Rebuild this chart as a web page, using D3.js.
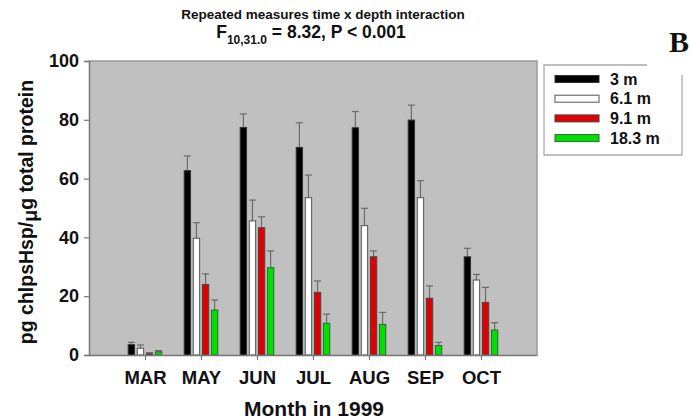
<!DOCTYPE html>
<html><head><meta charset="utf-8">
<script src="https://cdn.jsdelivr.net/npm/d3@7/dist/d3.min.js"></script>
<style>body{margin:0;background:#fff}svg{display:block}text{font-family:"Liberation Sans",Arial,sans-serif;font-weight:bold;fill:#111}</style>
</head><body>
<svg id="c" width="690" height="419"></svg>
<script>
const months = ["MAR","MAY","JUN","JUL","AUG","SEP","OCT"];
const depths = ["3 m","6.1 m","9.1 m","18.3 m"];
const colors = ["#000000","#ffffff","#e00000","#00e000"];
const strokes = ["#333333","#555555","#444444","#336633"];
const meanVals = [
  [3.5, 62.7, 77.4, 70.6, 77.3, 79.9, 33.4],
  [2.3, 39.7, 45.6, 53.5, 44.0, 53.5, 25.5],
  [0.4, 24.0, 43.3, 21.3, 33.4, 19.3, 17.9],
  [1.1, 15.3, 29.7, 10.8, 10.4, 3.2, 8.5]
];
const errTops = [
  [4.3, 67.7, 82.0, 79.0, 82.8, 85.0, 36.3],
  [3.4, 45.0, 52.7, 61.2, 49.9, 59.3, 27.4],
  [0.8, 27.6, 47.0, 25.2, 35.4, 23.5, 23.0],
  [1.5, 18.7, 35.4, 13.9, 14.5, 4.3, 11.0]
];
const yTicks = [0,20,40,60,80,100];

const svg = d3.select("#c");
const L=89, R=537, T=61, B=355;
const x = d3.scalePoint().domain(months).range([L,R]).padding(1);
const y = d3.scaleLinear().domain([0,100]).range([B,T]);
const off = d3.scaleBand().domain(depths).range([-16.8,16.8]).paddingInner(0.3);

svg.append("rect").attr("x",L).attr("y",T).attr("width",R-L).attr("height",B-T).attr("fill","#c0c0c0");
svg.append("path").attr("d",`M${L},${T}H${R}V${B}`).attr("fill","none").attr("stroke","#9a9a9a").attr("stroke-width",1.5);

// bars
depths.forEach((d,si)=>{
  const g = svg.append("g");
  months.forEach((m,mi)=>{
    const cx = x(m)+off(d)+off.bandwidth()/2;
    const v = meanVals[si][mi], e = errTops[si][mi];
    g.append("line").attr("x1",cx).attr("x2",cx).attr("y1",y(v)).attr("y2",y(e)).attr("stroke","#6a6a6a").attr("stroke-width",1.2);
    g.append("line").attr("x1",cx-3.5).attr("x2",cx+3.5).attr("y1",y(e)).attr("y2",y(e)).attr("stroke","#6a6a6a").attr("stroke-width",1.2);
    g.append("rect").attr("x",x(m)+off(d)).attr("y",y(v)).attr("width",off.bandwidth()).attr("height",y(0)-y(v))
      .attr("fill",colors[si]).attr("stroke",strokes[si]).attr("stroke-width",1);
  });
});

// axes
const ya = svg.append("g").attr("transform",`translate(${L},0)`).call(d3.axisLeft(y).tickValues(yTicks).tickSize(5).tickPadding(5));
ya.select(".domain").attr("stroke","#777").attr("stroke-width",1.5);
ya.selectAll(".tick line").attr("stroke","#777").attr("stroke-width",1.2);
ya.selectAll("text").attr("font-size","18px").attr("font-family","Liberation Sans, Arial").attr("font-weight","bold").attr("fill","#111");

const xa = svg.append("g").attr("transform",`translate(0,${B})`).call(d3.axisBottom(x).tickSize(5).tickPadding(11).tickSizeOuter(0));
xa.select(".domain").attr("stroke","#777").attr("stroke-width",1.5);
xa.selectAll(".tick line").attr("stroke","#777").attr("stroke-width",1.2);
xa.selectAll("text").attr("font-size","18.5px").attr("font-family","Liberation Sans, Arial").attr("font-weight","bold").attr("fill","#111");

// titles
svg.append("text").attr("x",323).attr("y",19).attr("text-anchor","middle").attr("font-size","13.5px").text("Repeated measures time x depth interaction");
const t2 = svg.append("text").attr("x",311).attr("y",38).attr("text-anchor","middle").attr("font-size","17.5px");
t2.append("tspan").text("F");
t2.append("tspan").attr("font-size","12px").attr("dy",6).text("10,31.0");
t2.append("tspan").attr("dy",-6).text(" = 8.32, P < 0.001");

svg.append("text").attr("x",314).attr("y",416).attr("text-anchor","middle").attr("font-size","21px").text("Month in 1999");

const yl = svg.append("text").attr("transform","translate(33,212) rotate(-90)").attr("text-anchor","middle").attr("font-size","19.5px");
yl.append("tspan").text("pg chlpsHsp/");
yl.append("tspan").attr("dy",4).text("μ");
yl.append("tspan").attr("dy",-4).text("g total protein");

svg.append("text").attr("x",669).attr("y",52).attr("font-size","30px").style("font-family","'Liberation Serif','Times New Roman',serif").text("B");

// legend
const lg = svg.append("g");
lg.append("rect").attr("x",544).attr("y",65).attr("width",138).attr("height",90).attr("fill","#fff");
lg.append("path").attr("d","M647,65H544V155H682V75").attr("fill","none").attr("stroke","#aaa").attr("stroke-width",1.3);
depths.forEach((d,i)=>{
  const yy = 79 + i*19.7;
  lg.append("rect").attr("x",555).attr("y",yy-3.5).attr("width",44).attr("height",7).attr("fill",colors[i]).attr("stroke",strokes[i]);
  lg.append("text").attr("x",610).attr("y",yy+5.5).attr("font-size","16px").text(d);
});
</script>
</body></html>
